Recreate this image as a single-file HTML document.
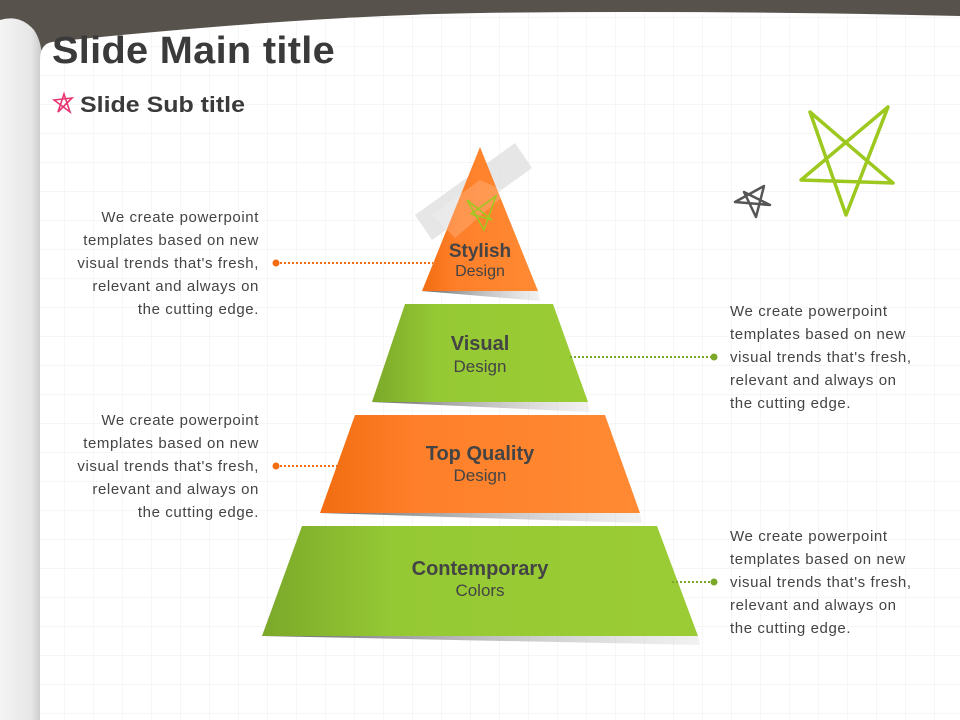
<!DOCTYPE html>
<html><head><meta charset="utf-8"><style>
html,body{margin:0;padding:0;width:960px;height:720px;overflow:hidden;background:#fff}
svg{display:block}
text{font-family:"Liberation Sans","DejaVu Sans",sans-serif}
</style></head><body>
<svg width="960" height="720" viewBox="0 0 960 720" xmlns="http://www.w3.org/2000/svg">
<defs>
<pattern id="grid" width="29" height="29" patternUnits="userSpaceOnUse" x="7" y="18">
<path d="M29 0V29M0 29H29" stroke="#eeeeee" stroke-width="1" fill="none"/>
</pattern>
<linearGradient id="og" x1="0" x2="1"><stop offset="0" stop-color="#f26d10"/><stop offset="0.3" stop-color="#ff7f2a"/><stop offset="1" stop-color="#ff8a33"/></linearGradient>
<linearGradient id="gg" x1="0" x2="1"><stop offset="0" stop-color="#7ba82a"/><stop offset="0.3" stop-color="#95c934"/><stop offset="1" stop-color="#9bcc35"/></linearGradient>
<linearGradient id="sh" x1="0" x2="1"><stop offset="0" stop-color="#555" stop-opacity="0.9"/><stop offset="1" stop-color="#bbb" stop-opacity="0.2"/></linearGradient>
<linearGradient id="lp" x1="0" x2="1"><stop offset="0" stop-color="#f4f4f4"/><stop offset="0.75" stop-color="#e6e6e6"/><stop offset="1" stop-color="#c8c8c8"/></linearGradient>
</defs>
<rect width="960" height="720" fill="#57524c"/>
<path d="M0 20 Q20 14 34 30 Q42 42 42 60 L42 720 L0 720Z" fill="url(#lp)"/>
<path d="M40 720 L40 60 Q40 44 52 42 Q300 16 480 13 Q700 10 960 16 L960 720Z" fill="#fff"/>
<path d="M40 720 L40 60 Q40 44 52 42 Q300 16 480 13 Q700 10 960 16 L960 720Z" fill="url(#grid)"/>
<text x="52" y="63" font-size="38" font-weight="bold" fill="#3a3a3a" letter-spacing="0.3" textLength="283" lengthAdjust="spacingAndGlyphs">Slide Main title</text>
<path d="M54 100 L72 98 L58 112 L64 94 L70 112Z" fill="none" stroke="#e8336e" stroke-width="1.6"/>
<text x="80" y="112" font-size="22" font-weight="bold" fill="#3a3a3a" textLength="165" lengthAdjust="spacingAndGlyphs">Slide Sub title</text>
<path d="M810 112 L893 183 L801 180 L888 107 L846 215 Z" fill="none" stroke="#9dc81f" stroke-width="3.5" stroke-linejoin="round"/>
<path d="M744 192 L770 205 L735 202 L764 186 L756 217 Z" fill="none" stroke="#555" stroke-width="2.5" stroke-linejoin="round"/>
<path d="M415 215 L515 143 L532 168 L432 240Z" fill="#ddd" opacity="0.75"/>
<path d="M422 291 L538 291 L540 301 Z" fill="url(#sh)"/>
<path d="M372 402 L588 402 L590 412 Z" fill="url(#sh)"/>
<path d="M320 513 L640 513 L642 523 Z" fill="url(#sh)"/>
<path d="M262 636 L698 636 L700 645 Z" fill="url(#sh)"/>
<path d="M480 147 L538 291 L422 291Z" fill="url(#og)"/>
<path d="M432 215 L480 180 L508 192 L455 238Z" fill="#fff" opacity="0.18"/>
<path d="M467 200 L492 220 L471 214 L496 196 L484 230Z" fill="none" stroke="#9dc81f" stroke-width="1.5"/>
<path d="M405 304 L553 304 L588 402 L372 402Z" fill="url(#gg)"/>
<path d="M355 415 L605 415 L640 513 L320 513Z" fill="url(#og)"/>
<path d="M302 526 L657 526 L698 636 L262 636Z" fill="url(#gg)"/>
<g text-anchor="middle" fill="#444">
<text x="480" y="257" font-size="19" font-weight="bold">Stylish</text>
<text x="480" y="276" font-size="16">Design</text>
<text x="480" y="350" font-size="20" font-weight="bold">Visual</text>
<text x="480" y="372" font-size="17">Design</text>
<text x="480" y="460" font-size="20" font-weight="bold">Top Quality</text>
<text x="480" y="481" font-size="17">Design</text>
<text x="480" y="575" font-size="20" font-weight="bold">Contemporary</text>
<text x="480" y="596" font-size="17">Colors</text>
</g>
<g stroke-width="2" stroke-dasharray="2 2">
<line x1="276" y1="263" x2="433" y2="263" stroke="#f26d10"/>
<line x1="276" y1="466" x2="342" y2="466" stroke="#f26d10"/>
<line x1="570" y1="357" x2="714" y2="357" stroke="#7ba82a"/>
<line x1="672" y1="582" x2="714" y2="582" stroke="#7ba82a"/>
</g>
<circle cx="276" cy="263" r="3.5" fill="#f26d10"/>
<circle cx="276" cy="466" r="3.5" fill="#f26d10"/>
<circle cx="714" cy="357" r="3.5" fill="#7ba82a"/>
<circle cx="714" cy="582" r="3.5" fill="#7ba82a"/>
<g font-size="15" fill="#444" text-anchor="end" letter-spacing="0.6">
<text x="259" y="222">We create powerpoint</text>
<text x="259" y="245">templates based on new</text>
<text x="259" y="268">visual trends that's fresh,</text>
<text x="259" y="291">relevant and always on</text>
<text x="259" y="314">the cutting edge.</text>
<text x="259" y="425">We create powerpoint</text>
<text x="259" y="448">templates based on new</text>
<text x="259" y="471">visual trends that's fresh,</text>
<text x="259" y="494">relevant and always on</text>
<text x="259" y="517">the cutting edge.</text>
</g>
<g font-size="15" fill="#444" letter-spacing="0.6">
<text x="730" y="316">We create powerpoint</text>
<text x="730" y="339">templates based on new</text>
<text x="730" y="362">visual trends that's fresh,</text>
<text x="730" y="385">relevant and always on</text>
<text x="730" y="408">the cutting edge.</text>
<text x="730" y="541">We create powerpoint</text>
<text x="730" y="564">templates based on new</text>
<text x="730" y="587">visual trends that's fresh,</text>
<text x="730" y="610">relevant and always on</text>
<text x="730" y="633">the cutting edge.</text>
</g>
</svg>
</body></html>
